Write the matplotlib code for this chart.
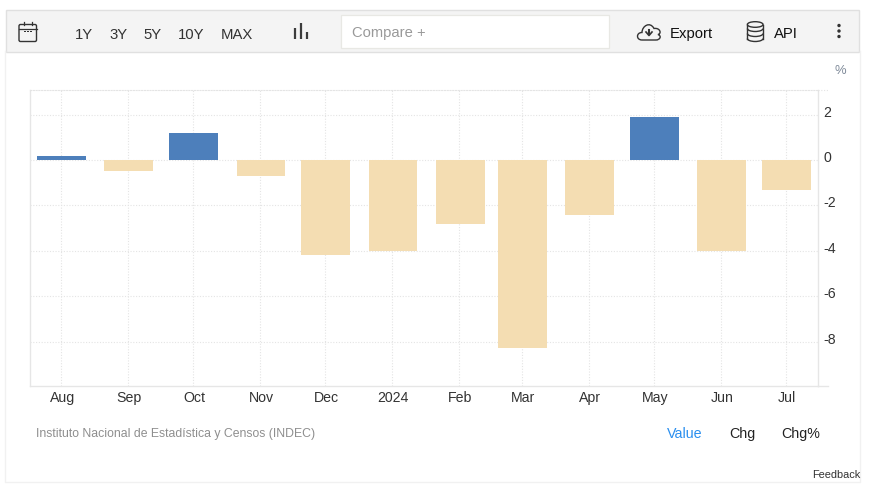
import matplotlib
matplotlib.use('Agg')
import matplotlib.pyplot as plt
import matplotlib.dates as mdates
from matplotlib.patches import Rectangle, FancyBboxPatch, Ellipse, Circle, PathPatch, Arc
from matplotlib.path import Path
from matplotlib.transforms import ScaledTranslation
import datetime as dt

# Datos
months = ['2023-08-01', '2023-09-01', '2023-10-01', '2023-11-01', '2023-12-01', '2024-01-01',
          '2024-02-01', '2024-03-01', '2024-04-01', '2024-05-01', '2024-06-01', '2024-07-01']
values = [0.17, -0.5, 1.2, -0.7, -4.2, -4.0, -2.8, -8.27, -2.4, 1.9, -4.0, -1.3]
x_labels = ['Aug', 'Sep', 'Oct', 'Nov', 'Dec', '2024', 'Feb', 'Mar', 'Apr', 'May', 'Jun', 'Jul']
y_ticks = [2, 0, -2, -4, -6, -8]
y_labels = ['2', '0', '-2', '-4', '-6', '-8']
periods = ['1Y', '3Y', '5Y', '10Y', 'MAX']
period_x = [83.5, 118.5, 152.5, 191.5, 236.5]
modes = ['Value', 'Chg', 'Chg%']
mode_x = [684.5, 742.5, 801]
mode_colors = ['#2a8fef', '#222222', '#222222']
source = 'Instituto Nacional de Estadística y Censos (INDEC)'

W, H = 873, 489
POS_COLOR = '#4d7fbb'
NEG_COLOR = '#f4ddb2'
GRID = '#e4e4e4'
plt.rcParams['font.family'] = ['Liberation Sans', 'DejaVu Sans']

fig = plt.figure(figsize=(W / 100, H / 100), dpi=100, facecolor='white')

# Grafica
L, R, T, B = 30, 818, 90.5, 386.5
ax = fig.add_axes([L / W, 1 - B / H, (R - L) / W, (B - T) / H])
dates = [dt.date.fromisoformat(m) for m in months]
x = mdates.date2num(dates)
colors = [POS_COLOR if v > 0 else NEG_COLOR for v in values]
ax.bar(x + 0.42, values, width=22.6, color=colors, linewidth=0, zorder=3)
ax.set_xlim(x[0] - 14.3, x[-1] + 14.8)
ax.set_ylim(-9.92, 3.10)
ax.set_xticks(x)
ax.set_xticklabels(x_labels)
ax.set_yticks(y_ticks)
ax.set_yticklabels(y_labels)
ax.yaxis.tick_right()
ax.tick_params(axis='x', length=0, pad=3, labelsize=10.2, labelcolor='#333333')
ax.tick_params(axis='y', length=0, pad=4, labelsize=10.2, labelcolor='#333333')
for lab in ax.get_xticklabels():
    lab.set_transform(lab.get_transform() + ScaledTranslation(1.2 / 100, 0, fig.dpi_scale_trans))
for lab in ax.get_yticklabels():
    lab.set_transform(lab.get_transform() + ScaledTranslation(0, 4.5 / 100, fig.dpi_scale_trans))
ax.grid(True, color=GRID, linewidth=0.8, linestyle=(0, (1, 1.5)), zorder=0)
ax.set_axisbelow(True)
for side in ['left', 'right', 'bottom']:
    ax.spines[side].set_color('#e6e6e6')
    ax.spines[side].set_linewidth(1)
ax.spines['top'].set_color(GRID)
ax.spines['top'].set_linewidth(0.8)
ax.spines['top'].set_linestyle((0, (1, 1.5)))

# Capa en pixeles para la barra de herramientas y los textos
ui = fig.add_axes([0, 0, 1, 1], zorder=5)
ui.set_xlim(0, W)
ui.set_ylim(H, 0)
ui.axis('off')
ui.patch.set_alpha(0)

# marco exterior
ui.plot([5, 5, 859.5, 859.5], [52, 482.5, 482.5, 52], color='#f1f1f1', lw=1)
# extremos de las lineas superior e inferior
ui.plot([R, 828], [T, T], color=GRID, lw=0.8, linestyle=(0, (1, 1.5)))
ui.plot([R, 828], [B, B], color='#e6e6e6', lw=1)

# barra superior
ui.add_patch(Rectangle((5.5, 11), 853.5, 41.5, facecolor='#f4f4f4', edgecolor='#e0e0e0', lw=1))
ui.add_patch(Rectangle((341, 15.5), 268, 33, facecolor='white', edgecolor='#e8e8e4', lw=0.9))
ICON = '#333333'

# calendario
ui.add_patch(FancyBboxPatch((19, 25.5), 17.5, 17, boxstyle='round,pad=0,rounding_size=1.5',
                            facecolor='none', edgecolor=ICON, lw=1))
ui.plot([19, 36.5], [29.5, 29.5], color=ICON, lw=0.9)
ui.plot([23.5, 23.5], [23, 26], color=ICON, lw=0.9)
ui.plot([32, 32], [23, 26], color=ICON, lw=0.9)
for cx in [25, 28, 31]:
    ui.add_patch(Rectangle((cx - 0.6, 31.5), 1.3, 1.3, color=ICON, lw=0))

for label, px in zip(periods, period_x):
    ui.text(px, 38.7, label, ha='center', va='baseline', fontsize=10.7, color='#333333')

# icono de barras
for bx, top in zip([295.3, 301, 306.6], [28.5, 24, 32.7]):
    ui.plot([bx, bx], [top, 39.7], color='#3c3c3c', lw=1.6, solid_capstyle='butt')

ui.text(352, 37.5, 'Compare +', ha='left', va='baseline', fontsize=10.6, color='#999999')

# nube de exportar
cloud = Path([(642, 41), (636, 41), (636, 33.5), (642, 33.5), (642, 27), (650, 22), (654, 29.5),
              (660, 28.5), (662, 34.5), (658, 35.5), (662, 37), (660, 41), (656, 41), (642, 41)],
             [Path.MOVETO, Path.CURVE4, Path.CURVE4, Path.CURVE4, Path.CURVE4, Path.CURVE4, Path.CURVE4,
              Path.CURVE4, Path.CURVE4, Path.CURVE4, Path.CURVE4, Path.CURVE4, Path.CURVE4, Path.LINETO])
ui.add_patch(PathPatch(cloud, facecolor='none', edgecolor=ICON, lw=1))
ui.plot([649, 649], [30.5, 34.5], color=ICON, lw=1.5)
ui.plot([646, 649, 652], [33, 36.5, 33], color=ICON, lw=1.2)
ui.text(670, 38.3, 'Export', ha='left', va='baseline', fontsize=10.7, color='#111111')

# base de datos
ui.plot([747.3, 747.3], [25.5, 39.5], color=ICON, lw=1)
ui.plot([763, 763], [25.5, 39.5], color=ICON, lw=1)
ui.add_patch(Ellipse((755.2, 25.5), 15.7, 5.6, facecolor='none', edgecolor=ICON, lw=1))
for ey in [29.5, 34.5, 39.5]:
    ui.add_patch(Arc((755.2, ey), 15.7, 6, theta1=0, theta2=180, edgecolor=ICON, lw=1))
ui.text(774, 38.3, 'API', ha='left', va='baseline', fontsize=10.7, color='#111111')

# tres puntos
for dy in [26.5, 32, 37.5]:
    ui.add_patch(Circle((839, dy), 1.7, color='#333333', lw=0))

ui.text(840, 71, '%', ha='center', va='center', fontsize=9.4, color='#7f8a99')
ui.text(36, 437, source, ha='left', va='baseline', fontsize=8.85, color='#8e8e8e')
for label, mx, col in zip(modes, mode_x, mode_colors):
    ui.text(mx, 438, label, ha='center', va='baseline', fontsize=10.3, color=col)
ui.text(860, 478, 'Feedback', ha='right', va='baseline', fontsize=7.9, color='#333333')

fig.savefig('out.png', dpi=100)
